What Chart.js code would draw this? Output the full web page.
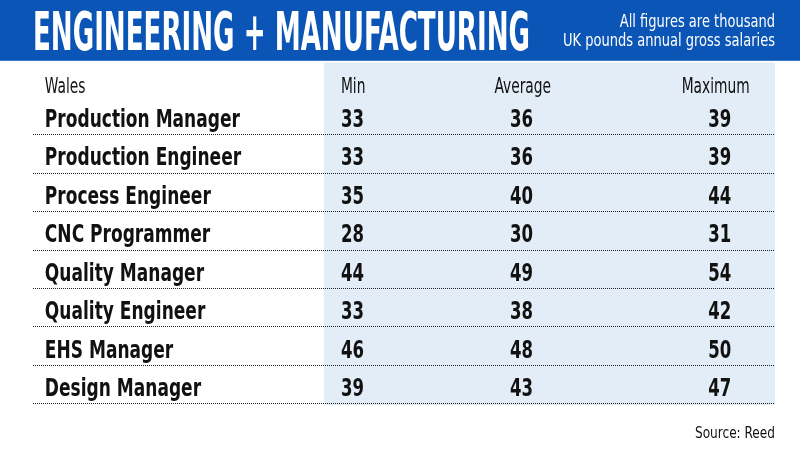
<!DOCTYPE html>
<html>
<head>
<meta charset="utf-8">
<script src="https://cdn.jsdelivr.net/npm/chart.js@4.4.1/dist/chart.umd.min.js"></script>
<style>
  html, body { margin: 0; padding: 0; background: #fff; }
  #wrap { width: 800px; height: 450px; }
</style>
</head>
<body>
<div id="wrap"><canvas id="tabla"></canvas></div>
<script>
const titulo = "ENGINEERING + MANUFACTURING";
const notaLineas = ["All figures are thousand", "UK pounds annual gross salaries"];
const fuente = "Source: Reed";
const region = "Wales";
const columnas = ["Min", "Average", "Maximum"];
const puestos = [
    "Production Manager",
    "Production Engineer",
    "Process Engineer",
    "CNC Programmer",
    "Quality Manager",
    "Quality Engineer",
    "EHS Manager",
    "Design Manager"
];
const minimos = [33, 33, 35, 28, 44, 33, 46, 39];
const promedios = [36, 36, 40, 30, 49, 38, 48, 43];
const maximos = [39, 39, 44, 31, 54, 42, 50, 47];

// layout (x scale 0..100 across the table, y scale = row index)
const colNombre = 1.6;
const colPanel = 39.2;
const colNumeros = [41.5, 64.3, 91.0];
const colCabecera = [{ x: 41.5, align: "left" }, { x: 66.0, align: "center" }, { x: 92.0, align: "center" }];
const filaCabecera = -0.86;

const azul = "#0a55b5";
const panel = "#e3edf7";
const tinta = "#111111";
const condensada = '"Liberation Sans Narrow", "DejaVu Sans Condensed", "Roboto", sans-serif';

function textoAjustado(ctx, texto, x, y, escala, align) {
    const w = ctx.measureText(texto).width * escala;
    let x0 = x;
    if (align === "right") x0 = x - w;
    if (align === "center") x0 = x - w / 2;
    ctx.save();
    ctx.translate(x0, y);
    ctx.scale(escala, 1);
    ctx.textAlign = "left";
    ctx.fillText(texto, 0, 0);
    ctx.restore();
}

function escalaPara(ctx, muestra, ancho) {
    return ancho / ctx.measureText(muestra).width;
}

const pluginTabla = {
    id: "pluginTabla",
    beforeDraw(chart) {
        const ctx = chart.ctx;
        const area = chart.chartArea;
        const sx = chart.scales.x;
        ctx.save();
        ctx.fillStyle = "#ffffff";
        ctx.fillRect(0, 0, chart.width, chart.height);
        // cabecera azul
        ctx.fillStyle = azul;
        ctx.fillRect(0, 0, chart.width, 61);
        ctx.fillStyle = "#3a7cca";
        ctx.fillRect(0, 60, chart.width, 1);
        // panel celeste
        const px = sx.getPixelForValue(colPanel);
        ctx.fillStyle = panel;
        ctx.fillRect(px, area.top, area.right - px, area.bottom - area.top);

        ctx.textBaseline = "alphabetic";
        ctx.fillStyle = "#ffffff";
        ctx.font = "bold 53px " + condensada;
        let k = escalaPara(ctx, titulo, 497);
        textoAjustado(ctx, titulo, 33, 50, k, "left");

        ctx.font = "18px " + condensada;
        k = escalaPara(ctx, notaLineas[1], 212);
        textoAjustado(ctx, notaLineas[0], 775, 27, k, "right");
        textoAjustado(ctx, notaLineas[1], 775, 46, k, "right");

        ctx.fillStyle = tinta;
        ctx.font = "16px " + condensada;
        k = escalaPara(ctx, fuente, 80);
        textoAjustado(ctx, fuente, 775, 438, k, "right");
        ctx.restore();
    },
    afterDatasetsDraw(chart) {
        const ctx = chart.ctx;
        const area = chart.chartArea;
        const sx = chart.scales.x;
        const sy = chart.scales.y;
        ctx.save();

        // lineas punteadas
        ctx.strokeStyle = "#222222";
        ctx.lineWidth = 1;
        ctx.setLineDash([1, 1]);
        puestos.forEach((p, i) => {
            const y = Math.round(sy.getPixelForValue(i + 0.41)) + 0.5;
            ctx.beginPath();
            ctx.moveTo(area.left, y);
            ctx.lineTo(area.right, y);
            ctx.stroke();
        });
        ctx.setLineDash([]);

        // fila de cabecera
        ctx.fillStyle = tinta;
        ctx.textBaseline = "alphabetic";
        ctx.font = "22px " + condensada;
        let k = escalaPara(ctx, columnas[2], 68);
        const yCab = sy.getPixelForValue(filaCabecera) + 8;
        textoAjustado(ctx, region, sx.getPixelForValue(colNombre), yCab, k, "left");
        columnas.forEach((c, j) => {
            textoAjustado(ctx, c, sx.getPixelForValue(colCabecera[j].x), yCab, k, colCabecera[j].align);
        });

        // nombres de puestos
        ctx.font = "bold 24px " + condensada;
        k = escalaPara(ctx, puestos[0], 195);
        puestos.forEach((p, i) => {
            textoAjustado(ctx, p, sx.getPixelForValue(colNombre), sy.getPixelForValue(i) + 8.5, k, "left");
        });

        // valores desde los puntos de cada serie
        k = escalaPara(ctx, "54", 23);
        chart.data.datasets.forEach((ds, d) => {
            const meta = chart.getDatasetMeta(d);
            meta.data.forEach((pt, i) => {
                textoAjustado(ctx, String(ds.valores[i]), pt.x, pt.y + 8.5, k, "left");
            });
        });
        ctx.restore();
    }
};

const series = [minimos, promedios, maximos];
const datasets = series.map((valores, j) => ({
    label: columnas[j],
    valores: valores,
    data: valores.map((v, i) => ({ x: colNumeros[j], y: i })),
    pointRadius: 0,
    pointHoverRadius: 0,
    showLine: false
}));

new Chart(document.getElementById("tabla"), {
    type: "scatter",
    data: { datasets },
    options: {
        responsive: true,
        maintainAspectRatio: false,
        animation: false,
        events: [],
        layout: { padding: { left: 33, right: 25, top: 62.5, bottom: 45 } },
        plugins: { legend: { display: false }, tooltip: { enabled: false } },
        scales: {
            x: { type: "linear", min: 0, max: 100, display: false },
            y: { type: "linear", min: -1.45, max: 7.45, reverse: true, display: false }
        }
    },
    plugins: [pluginTabla]
});
</script>
</body>
</html>
